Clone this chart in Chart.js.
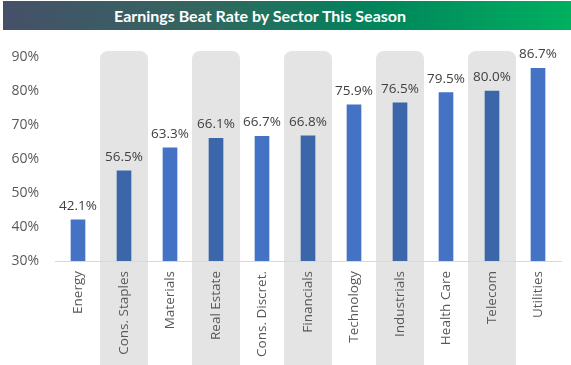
<!DOCTYPE html>
<html>
<head>
<meta charset="utf-8">
<script src="https://cdn.jsdelivr.net/npm/chart.js@4/dist/chart.umd.min.js"></script>
<style>
  body { margin: 0; background: #fff; }
  #wrap { position: relative; width: 571px; height: 365px; }
  #titulo {
    position: absolute; left: 3px; top: 1px; width: 514px; padding-right: 54px; height: 29px;
    background: linear-gradient(to right, #465069 0%, #33665f 35%, #00845c 65%, #00b060 100%);
    color: #fff; font: bold 16px Lato, sans-serif;
    text-align: center; line-height: 29px; z-index: 2;
  }
  canvas { position: absolute; left: 0; top: 0; }
</style>
</head>
<body>
<div id="wrap">
  <div id="titulo">Earnings Beat Rate by Sector This Season</div>
  <canvas id="grafico" width="571" height="365"></canvas>
</div>
<script>
var setores = ['Energy', 'Cons. Staples', 'Materials', 'Real Estate', 'Cons. Discret.', 'Financials',
    'Technology', 'Industrials', 'Health Care', 'Telecom', 'Utilities'];
var taxaBatida = [42.1, 56.5, 63.3, 66.1, 66.7, 66.8, 75.9, 76.5, 79.5, 80.0, 86.7];
var faixasCinza = ['Cons. Staples', 'Real Estate', 'Financials', 'Industrials', 'Telecom'];
var ticksY = [30, 40, 50, 60, 70, 80, 90];

var corBarra = setores.map(function (s) {
    return faixasCinza.indexOf(s) >= 0 ? '#3b66a9' : '#4472c4';
});

// colunas cinza atras das barras e dos rotulos
var fundoCinza = {
    id: 'fundoCinza',
    beforeDraw: function (chart) {
        var ctx = chart.ctx, x = chart.scales.x, area = chart.chartArea;
        ctx.save();
        ctx.fillStyle = '#e4e4e4';
        faixasCinza.forEach(function (nome) {
            var cx = x.getPixelForValue(setores.indexOf(nome));
            var l = cx - 24, r = cx + 24, t = area.top - 6, b = chart.height + 2, rad = 8;
            ctx.beginPath();
            ctx.moveTo(l, b);
            ctx.lineTo(l, t + rad);
            ctx.arcTo(l, t, l + rad, t, rad);
            ctx.lineTo(r - rad, t);
            ctx.arcTo(r, t, r, t + rad, rad);
            ctx.lineTo(r, b);
            ctx.closePath();
            ctx.fill();
        });
        ctx.restore();
    }
};

var rotulos = {
    id: 'rotulos',
    afterDatasetsDraw: function (chart) {
        var ctx = chart.ctx;
        ctx.save();
        ctx.font = '13.5px "Open Sans"';
        ctx.fillStyle = '#404040';
        ctx.textAlign = 'center';
        ctx.textBaseline = 'middle';
        chart.getDatasetMeta(0).data.forEach(function (bar, i) {
            ctx.fillText(taxaBatida[i].toFixed(1) + '%', bar.x, bar.y - 14);
        });
        ctx.restore();
    }
};

var grafico = new Chart(document.getElementById('grafico').getContext('2d'), {
    type: 'bar',
    data: {
        labels: setores,
        datasets: [{
            data: taxaBatida,
            backgroundColor: corBarra,
            barThickness: 14
        }]
    },
    options: {
        responsive: false,
        animation: false,
        layout: { padding: { top: 57, right: 10, left: 0, bottom: 0 } },
        plugins: { legend: { display: false }, tooltip: { enabled: false } },
        scales: {
            x: {
                grid: { display: false, drawTicks: false },
                border: { display: true, color: '#d9d9d9' },
                ticks: {
                    minRotation: 90, maxRotation: 90, padding: 10,
                    color: '#595959', font: { family: 'Open Sans', size: 13.5 }
                },
                afterFit: function (s) { s.height = 104; }
            },
            y: {
                min: 30, max: 90,
                grid: { display: false, drawTicks: false },
                border: { display: false },
                afterBuildTicks: function (s) { s.ticks = ticksY.map(function (v) { return { value: v }; }); },
                ticks: {
                    padding: 16, color: '#595959',
                    font: { family: 'Open Sans', size: 14 },
                    callback: function (v) { return v + '%'; }
                },
                afterFit: function (s) { s.width = 55; }
            }
        }
    },
    plugins: [fundoCinza, rotulos]
});
</script>
</body>
</html>
